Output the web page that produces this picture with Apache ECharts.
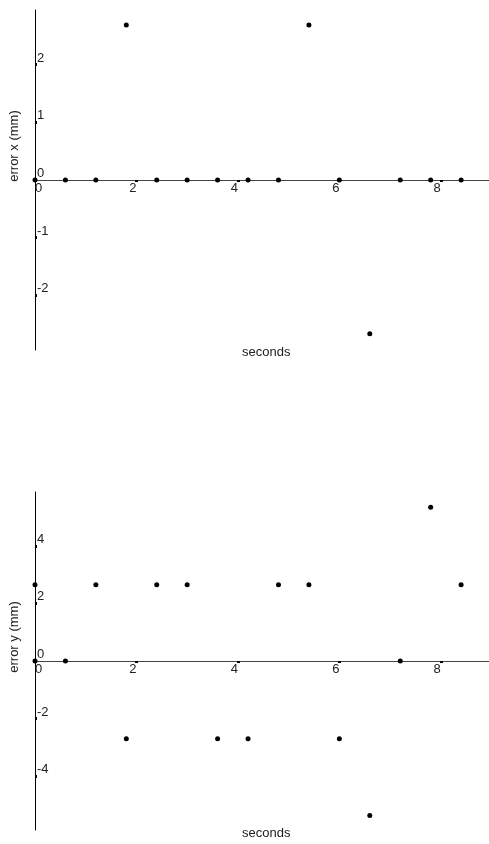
<!DOCTYPE html>
<html>
<head>
<meta charset="utf-8">
<script src="https://cdn.jsdelivr.net/npm/echarts@6/dist/echarts.min.js"></script>
<style>
  html,body{margin:0;padding:0;background:#fff;}
  #main{width:489px;height:844px;}
</style>
</head>
<body>
<div id="main"></div>
<script>
// sample times (s) and errors (mm)
var seconds = [0, 0.6, 1.2, 1.8, 2.4, 3.0, 3.6, 4.2, 4.8, 5.4, 6.0, 6.6, 7.2, 7.8, 8.4];
var errX = [0, 0, 0, 2.69, 0, 0, 0, 0, 0, 2.69, 0, -2.67, 0, 0, 0];
var errY = [2.65, 0, 2.65, -2.7, 2.65, 2.65, -2.7, -2.7, 2.65, 2.65, -2.7, -5.37, 0, 5.34, 2.65];
var originPt = [[0, 0]]; // dot at the origin in the lower plot
var xTicks = [0, 2, 4, 6, 8];
var yTicksX = [-2, -1, 0, 1, 2];
var yTicksY = [-4, -2, 0, 2, 4];

var chart = echarts.init(document.getElementById('main'));
var font = 'Liberation Sans, Arial, sans-serif';

function pairs(xs, ys) {
  return xs.map(function (x, i) { return [x, ys[i]]; });
}

function xAxisOpt(idx, shift) {
  return {
    gridIndex: idx, type: 'value', min: 0, max: 8.95,
    position: 'bottom', offset: shift,
    axisLine: { onZero: false, lineStyle: { color: '#444', width: 1 } },
    axisTick: { show: true, length: 2, customValues: xTicks, lineStyle: { color: '#000', width: 3 } },
    axisLabel: {
      customValues: xTicks, align: 'right', alignMinLabel: 'left',
      margin: 2, color: '#222', fontSize: 13, fontFamily: font
    },
    splitLine: { show: false }
  };
}

function yAxisOpt(idx, lim, ticks) {
  return {
    gridIndex: idx, type: 'value', min: -lim, max: lim,
    axisLine: { onZero: false, lineStyle: { color: '#000', width: 1 } },
    axisTick: { show: true, inside: true, length: 2, customValues: ticks, lineStyle: { color: '#000', width: 3 } },
    axisLabel: {
      inside: true, customValues: ticks,
      align: 'left', verticalAlign: 'bottom', margin: 2,
      color: '#222', fontSize: 13, fontFamily: font
    },
    splitLine: { show: false }
  };
}

var option = {
  animation: false,
  backgroundColor: '#fff',
  grid: [
    { left: 35, right: 0, top: 10, height: 340 },
    { left: 35, right: 0, top: 492, height: 338 }
  ],
  xAxis: [xAxisOpt(0, -170), xAxisOpt(1, -169)],
  yAxis: [yAxisOpt(0, 2.95, yTicksX), yAxisOpt(1, 5.87, yTicksY)],
  graphic: [
    { type: 'text', left: 242, top: 346, style: { text: 'seconds', font: '13px ' + font, fill: '#222' } },
    { type: 'text', left: 242, top: 827, style: { text: 'seconds', font: '13px ' + font, fill: '#222' } },
    { type: 'text', x: 14, y: 146, rotation: Math.PI / 2,
      style: { text: 'error x (mm)', font: '13px ' + font, fill: '#222', align: 'center', verticalAlign: 'middle' } },
    { type: 'text', x: 14, y: 637, rotation: Math.PI / 2,
      style: { text: 'error y (mm)', font: '13px ' + font, fill: '#222', align: 'center', verticalAlign: 'middle' } }
  ],
  series: [
    { type: 'scatter', xAxisIndex: 0, yAxisIndex: 0, symbolSize: 5,
      itemStyle: { color: '#000', opacity: 1 }, data: pairs(seconds, errX) },
    { type: 'scatter', xAxisIndex: 1, yAxisIndex: 1, symbolSize: 5,
      itemStyle: { color: '#000', opacity: 1 }, data: pairs(seconds, errY).concat(originPt) }
  ]
};
chart.setOption(option);
</script>
</body>
</html>
